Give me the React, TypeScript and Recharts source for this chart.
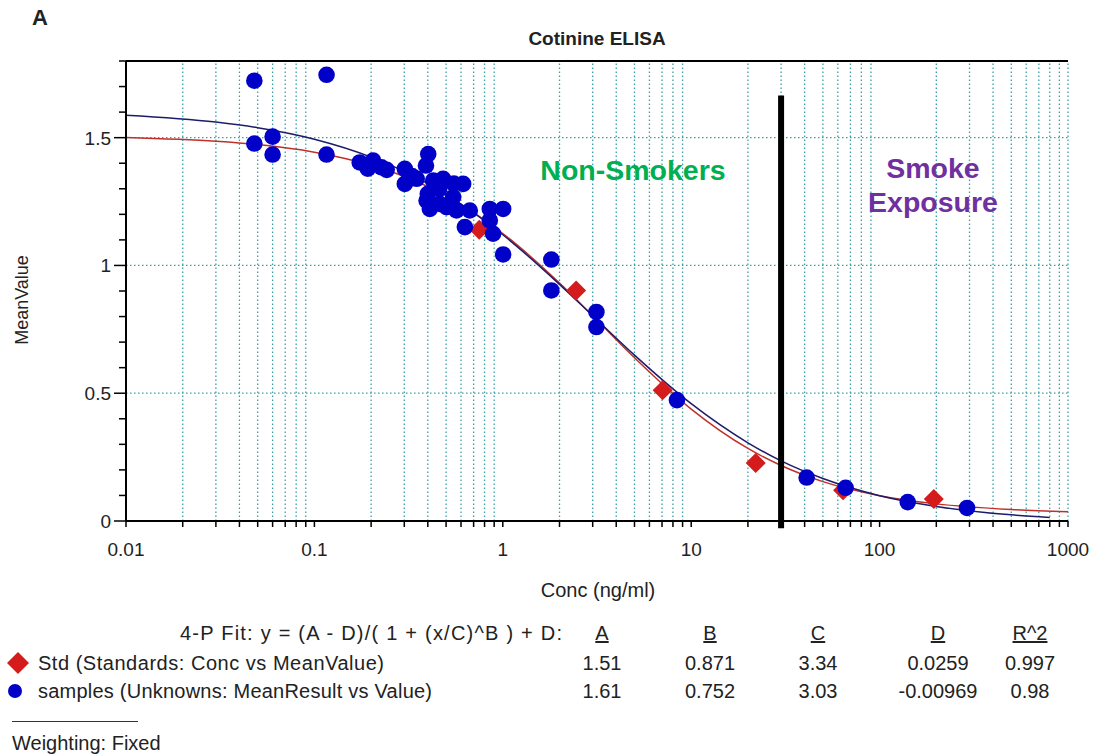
import React from 'react';
import { ComposedChart, Scatter, Line, XAxis, YAxis, ReferenceLine } from 'recharts';

// axis ticks
const xMajor = [0.01, 0.1, 1, 10, 100, 1000];
const xMinor = [
  0.02, 0.03, 0.04, 0.05, 0.06, 0.07, 0.08, 0.09,
  0.2, 0.3, 0.4, 0.5, 0.6, 0.7, 0.8, 0.9,
  2, 3, 4, 5, 6, 7, 8, 9,
  20, 30, 40, 50, 60, 70, 80, 90,
  200, 300, 400, 500, 600, 700, 800, 900,
];
const yMajor = [0, 0.5, 1, 1.5];
const yMinor = [0.1, 0.2, 0.3, 0.4, 0.6, 0.7, 0.8, 0.9, 1.1, 1.2, 1.3, 1.4, 1.6, 1.7, 1.8];
const yGrid = [0.5, 1, 1.5];

// standards (red diamonds)
const stdConc = [0.75, 2.45, 7.05, 22, 64, 194];
const stdMean = [1.14, 0.902, 0.512, 0.227, 0.12, 0.086];

// samples (blue circles)
const sampleConc = [
  0.048, 0.116, 0.048, 0.06, 0.06, 0.116,
  0.174, 0.205, 0.227, 0.192, 0.242,
  0.402, 0.391, 0.302, 0.302, 0.349, 0.427, 0.482, 0.616,
  0.394, 0.463, 0.545, 0.41, 0.503, 0.568, 0.668, 0.853, 1.004, 0.853, 0.629, 0.888, 1.004,
  0.33, 0.46, 0.4, 0.55,
  1.81, 1.81, 3.14, 3.14, 8.4, 41, 66, 141, 291,
];
const sampleMean = [
  1.723, 1.746, 1.477, 1.504, 1.434, 1.434,
  1.403, 1.41, 1.384, 1.379, 1.374,
  1.436, 1.391, 1.378, 1.319, 1.339, 1.332, 1.339, 1.319,
  1.254, 1.241, 1.267, 1.221, 1.228, 1.215, 1.215, 1.221, 1.221, 1.176, 1.15, 1.124, 1.043,
  1.35, 1.3, 1.28, 1.32,
  1.023, 0.902, 0.818, 0.759, 0.473, 0.17, 0.13, 0.074, 0.051,
];

// fitted curves
const stdFitConc = [0.01, 0.03, 0.05, 0.1, 0.2, 0.3, 0.5, 1, 2, 3, 5, 10, 20, 30, 50, 100, 200, 500, 1000];
const stdFit = [1.501, 1.486, 1.473, 1.443, 1.392, 1.348, 1.272, 1.125, 0.931, 0.803, 0.639, 0.438, 0.284, 0.217, 0.154, 0.099, 0.067, 0.045, 0.036];
const sampleFitConc = [0.01, 0.03, 0.05, 0.1, 0.2, 0.3, 0.5, 1, 2, 3, 5, 10, 20, 30, 50, 100, 200, 500, 800];
const sampleFit = [1.588, 1.561, 1.539, 1.494, 1.424, 1.368, 1.278, 1.12, 0.926, 0.803, 0.649, 0.459, 0.306, 0.235, 0.166, 0.099, 0.057, 0.024, 0.014];

const cutoff = 30;

// fit table
const fitFormula = '4-P Fit: y = (A - D)/( 1 + (x/C)^B ) + D:';
const fitHeaders = ['A', 'B', 'C', 'D', 'R^2'];
const stdLabel = 'Std (Standards: Conc vs MeanValue)';
const sampleLabel = 'samples (Unknowns: MeanResult vs Value)';
const stdParams = ['1.51', '0.871', '3.34', '0.0259', '0.997'];
const sampleParams = ['1.61', '0.752', '3.03', '-0.00969', '0.98'];

const zip = (xs: number[], ys: number[]) => xs.map((x, i) => ({ x, y: ys[i] }));
const stdPoints = zip(stdConc, stdMean);
const samplePoints = zip(sampleConc, sampleMean);
const stdCurve = zip(stdFitConc, stdFit);
const sampleCurve = zip(sampleFitConc, sampleFit);

const FONT = '"Liberation Sans", Arial, sans-serif';
const GRID = '#3d9fa6';
const INK = '#222';
const colX = [602, 710, 818, 938, 1030];

const XTick = (props: any) => {
  const { x, y, payload } = props;
  const major = xMajor.includes(payload.value);
  return (
    <g>
      <line x1={x} y1={y} x2={x} y2={y + 6} stroke="#000" strokeWidth={1.5} />
      {major && (
        <text x={x} y={y + 35} textAnchor="middle" fontSize={19} fill={INK} fontFamily={FONT}>
          {String(payload.value)}
        </text>
      )}
    </g>
  );
};

const YTick = (props: any) => {
  const { x, y, payload } = props;
  const major = yMajor.includes(payload.value);
  return (
    <g>
      <line x1={x - (major ? 12 : 7)} y1={y} x2={x} y2={y} stroke="#000" strokeWidth={1.5} />
      {major && (
        <text x={x - 15} y={y + 7} textAnchor="end" fontSize={19} fill={INK} fontFamily={FONT}>
          {String(payload.value)}
        </text>
      )}
    </g>
  );
};

const Circle = (props: any) => <circle cx={props.cx} cy={props.cy} r={8.3} fill="#0000c8" />;
const Diamond = (props: any) => {
  const { cx, cy } = props;
  const s = 10;
  return <polygon points={`${cx},${cy - s} ${cx + s},${cy} ${cx},${cy + s} ${cx - s},${cy}`} fill="#d41c1c" />;
};

const abs = (x: number, y: number, extra: React.CSSProperties = {}): React.CSSProperties => ({
  position: 'absolute',
  left: x,
  top: y,
  fontFamily: FONT,
  whiteSpace: 'nowrap',
  lineHeight: 1,
  ...extra,
});

export default function App() {
  return (
    <div style={{ position: 'absolute', left: 0, top: 0, width: 1096, height: 754, background: '#fff', fontFamily: FONT, color: INK }}>
      <ComposedChart width={1096} height={600} margin={{ top: 61, right: 28, bottom: 39, left: 66 }}>
        <XAxis
          dataKey="x"
          type="number"
          scale="log"
          domain={[0.01, 1000]}
          allowDataOverflow
          ticks={[...xMajor, ...xMinor].sort((a, b) => a - b)}
          interval={0}
          tickSize={0}
          tickMargin={0}
          tick={<XTick />}
          axisLine={{ stroke: '#000', strokeWidth: 2 }}
          height={40}
        />
        <YAxis
          dataKey="y"
          type="number"
          domain={[0, 1.8]}
          allowDataOverflow
          ticks={[...yMajor, ...yMinor].sort((a, b) => a - b)}
          interval={0}
          tickSize={0}
          tickMargin={0}
          tick={<YTick />}
          axisLine={{ stroke: '#000', strokeWidth: 2 }}
          width={60}
        />
        {[...xMinor, 1000].map((v) => (
          <ReferenceLine key={'gx' + v} x={v} stroke={GRID} strokeWidth={1.3} strokeDasharray="1.5 2.5" />
        ))}
        {yGrid.map((v) => (
          <ReferenceLine key={'gy' + v} y={v} stroke={GRID} strokeWidth={1.3} strokeDasharray="1.5 2.5" />
        ))}
        <ReferenceLine y={1.8} stroke="#000" strokeWidth={2} />
        <Line data={stdCurve} dataKey="y" type="monotone" stroke="#c0302a" strokeWidth={1.5} dot={false} isAnimationActive={false} />
        <Line data={sampleCurve} dataKey="y" type="monotone" stroke="#1c1c6a" strokeWidth={1.5} dot={false} isAnimationActive={false} />
        <Scatter data={stdPoints} shape={<Diamond />} isAnimationActive={false} />
        <Scatter data={samplePoints} shape={<Circle />} isAnimationActive={false} />
        <ReferenceLine
          segment={[{ x: cutoff, y: 1.665 }, { x: cutoff, y: -0.028 }]}
          stroke="#000"
          strokeWidth={6}
          ifOverflow="visible"
        />
      </ComposedChart>

      <div style={abs(40, 18, { fontSize: 22, fontWeight: 'bold', transform: 'translate(-50%,-50%)' })}>A</div>
      <div style={abs(597, 38, { fontSize: 19, fontWeight: 'bold', transform: 'translate(-50%,-50%)' })}>Cotinine ELISA</div>
      <div style={abs(22, 300, { fontSize: 18, transform: 'translate(-50%,-50%) rotate(-90deg)' })}>MeanValue</div>
      <div style={abs(598, 590, { fontSize: 20, transform: 'translate(-50%,-50%)' })}>Conc (ng/ml)</div>

      <div style={abs(633, 170, { fontSize: 28.5, fontWeight: 'bold', color: '#00b050', transform: 'translate(-50%,-50%)' })}>Non-Smokers</div>
      <div style={abs(933, 185, { fontSize: 28.5, fontWeight: 'bold', color: '#7030a0', transform: 'translate(-50%,-50%)', textAlign: 'center', lineHeight: '34px' })}>
        Smoke
        <br />
        Exposure
      </div>

      <svg style={{ position: 'absolute', left: 0, top: 600 }} width={1096} height={154} fontFamily={FONT} fontSize={20} fill={INK}>
        <text x={562} y={40} textAnchor="end" textLength={382} lengthAdjust="spacing">{fitFormula}</text>
        {fitHeaders.map((h, i) => (
          <text key={h} x={colX[i]} y={40} textAnchor="middle" textDecoration="underline">{h}</text>
        ))}
        <polygon points="18,52 29,63 18,74 7,63" fill="#d41c1c" />
        <circle cx={15} cy={91} r={7} fill="#0000c8" />
        <text x={38} y={70} textLength={346} lengthAdjust="spacing">{stdLabel}</text>
        <text x={38} y={98} textLength={394} lengthAdjust="spacing">{sampleLabel}</text>
        {stdParams.map((p, i) => (
          <text key={'s' + i} x={colX[i]} y={70} textAnchor="middle">{p}</text>
        ))}
        {sampleParams.map((p, i) => (
          <text key={'u' + i} x={colX[i]} y={98} textAnchor="middle">{p}</text>
        ))}
        <line x1={12} y1={121.5} x2={138} y2={121.5} stroke="#333" strokeWidth={1} />
        <text x={12} y={150}>Weighting: Fixed</text>
      </svg>
    </div>
  );
}
